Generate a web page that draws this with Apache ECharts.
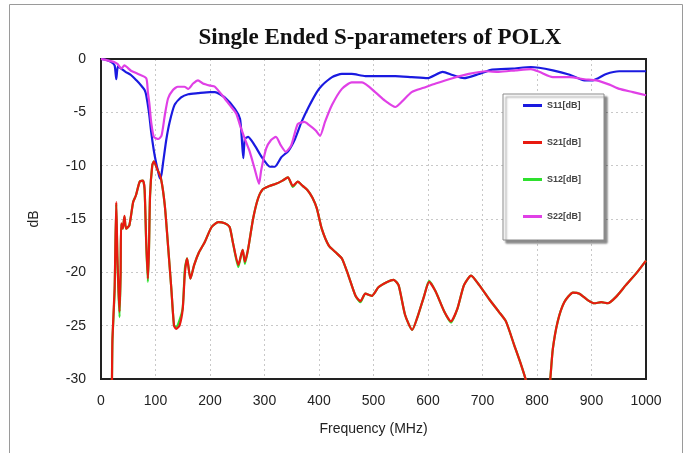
<!DOCTYPE html>
<html>
<head>
<meta charset="utf-8">
<script src="https://cdn.jsdelivr.net/npm/echarts@6/dist/echarts.min.js"></script>
<style>
  html, body { margin: 0; padding: 0; background: #fff; }
  #chart { width: 691px; height: 453px; }
</style>
</head>
<body>
<div id="chart"></div>
<script>
// [frequency MHz, dB]
const s11 = [[0,0],[10,-0.1],[19,-0.3],[25,-0.6],[28,-1.9],[31,-0.7],[37,-0.9],[45,-1.2],[55,-1.5],[65,-2.0],
  [74,-2.5],[80,-2.9],[83,-3.4],[88,-5.0],[92,-6.8],[97,-8.6],[101,-9.7],[105,-10.6],[108,-11.2],[111,-10.8],
  [114,-9.7],[120,-7.5],[126,-5.9],[135,-4.3],[147,-3.6],[160,-3.3],[178,-3.2],[200,-3.1],[209,-3.1],[227,-3.6],
  [246,-4.7],[255,-5.6],[258,-7.2],[261,-9.3],[264,-7.5],[270,-7.3],[282,-8.1],[295,-9.2],[310,-10.1],[319,-10.1],
  [331,-9.2],[344,-8.6],[356,-7.5],[368,-5.9],[381,-4.5],[396,-3.1],[405,-2.5],[424,-1.7],[442,-1.4],[460,-1.4],
  [485,-1.6],[509,-1.6],[540,-1.6],[570,-1.7],[599,-1.8],[627,-1.2],[645,-1.5],[666,-1.8],[694,-1.4],[718,-1.0],
  [755,-0.9],[789,-0.75],[829,-1.06],[860,-1.47],[887,-2.0],[902,-2.0],[927,-1.4],[951,-1.15],[1000,-1.15]];

const s21 = [[18,-34],[20,-30.5],[21,-26.2],[25,-21.5],[28,-13.4],[30,-18.4],[32,-21.5],[34,-23.7],[36,-20],[37,-15.4],
  [40,-15.9],[43,-14.7],[46,-15.9],[52,-15.6],[59,-13.4],[64,-12.8],[71,-11.5],[77,-11.4],[80,-12.2],[83,-17.2],
  [86,-20.6],[88,-17.8],[90,-12.8],[94,-10],[97,-9.6],[103,-10.3],[110,-11.2],[117,-13.7],[123,-17.5],[129,-21.5],
  [134,-25],[138,-25.3],[144,-25],[150,-23.4],[154,-20],[158,-18.7],[164,-20.6],[171,-19.3],[180,-18.1],[190,-17.2],
  [203,-15.75],[215,-15.3],[227,-15.4],[236,-15.75],[242,-17.2],[252,-19.3],[257,-18.4],[260,-17.9],[264,-19],[270,-17.8],
  [279,-15],[288,-13.1],[297,-12.2],[309,-11.9],[321,-11.7],[333,-11.4],[343,-11.1],[352,-11.9],[361,-11.5],[370,-11.9],
  [379,-12.3],[388,-13],[396,-14.0],[405,-15.9],[418,-17.5],[430,-18.1],[442,-18.7],[454,-20.3],[467,-22.2],[476,-22.7],
  [485,-22.0],[497,-22.2],[509,-21.4],[525,-20.9],[537,-20.7],[546,-21.2],[558,-24],[571,-25.4],[580,-24.3],[593,-22.2],
  [602,-20.9],[614,-21.8],[630,-23.7],[642,-24.6],[654,-23.4],[666,-21.2],[679,-20.3],[694,-21.2],[712,-22.5],[730,-23.7],
  [743,-24.6],[758,-26.8],[771,-28.7],[780,-30.2],[790,-33],[805,-36],[815,-34],[824,-30.2],[829,-27.2],[838,-24.6],
  [850,-22.8],[866,-21.9],[878,-22.0],[893,-22.6],[905,-22.9],[918,-22.8],[930,-22.9],[945,-22.3],[963,-21.2],[982,-20.1],
  [1000,-18.9]];

const s12 = [[18,-34],[20,-30.5],[21,-26.4],[25,-21.8],[28,-13.6],[30,-18.6],[32,-21.8],[34,-24.2],[36,-20.2],[37,-15.5],
  [40,-15.9],[43,-14.8],[46,-15.9],[52,-15.6],[59,-13.4],[64,-12.8],[71,-11.5],[77,-11.4],[80,-12.3],[83,-17.4],
  [86,-20.9],[88,-17.9],[90,-12.8],[94,-10],[97,-9.6],[103,-10.3],[110,-11.2],[117,-13.7],[123,-17.5],[129,-21.5],
  [134,-25],[138,-25.1],[144,-24.5],[150,-23.3],[154,-19.6],[158,-18.7],[164,-20.6],[171,-19.3],[180,-18.1],[190,-17.2],
  [203,-15.75],[215,-15.3],[227,-15.4],[236,-15.75],[242,-17.2],[252,-19.5],[257,-18.4],[260,-17.9],[264,-19.2],[270,-17.8],
  [279,-15],[288,-13.1],[297,-12.2],[309,-11.9],[321,-11.7],[333,-11.4],[343,-11.1],[352,-12.0],[361,-11.5],[370,-11.9],
  [379,-12.3],[388,-13],[396,-14.0],[405,-15.9],[418,-17.5],[430,-18.1],[442,-18.7],[454,-20.3],[467,-22.2],[476,-22.8],
  [485,-22.0],[497,-22.2],[509,-21.4],[525,-20.9],[537,-20.7],[546,-21.2],[558,-24],[571,-25.4],[580,-24.3],[593,-22.2],
  [602,-20.8],[614,-21.8],[630,-23.7],[642,-24.7],[654,-23.4],[666,-21.2],[679,-20.3],[694,-21.2],[712,-22.5],[730,-23.7],
  [743,-24.6],[758,-26.8],[771,-28.7],[780,-30.2],[790,-33],[805,-36],[815,-34],[824,-30.2],[829,-27.2],[838,-24.6],
  [850,-22.8],[866,-21.9],[878,-22.0],[893,-22.6],[905,-22.9],[918,-22.8],[930,-22.9],[945,-22.3],[963,-21.2],[982,-20.1],
  [1000,-18.9]];

const s22 = [[0,0],[10,-0.1],[25,-0.3],[31,-0.5],[37,-0.9],[43,-0.6],[55,-1.1],[68,-1.4],[83,-1.8],[86,-3.1],
  [89,-4.3],[92,-5.9],[97,-7.3],[105,-7.5],[111,-7.2],[117,-5.3],[123,-3.7],[132,-2.9],[141,-2.6],[153,-2.6],
  [160,-2.8],[169,-2.3],[178,-2.0],[187,-2.3],[200,-2.5],[209,-2.6],[227,-3.7],[236,-4.3],[248,-5.1],[255,-6.2],
  [264,-7.5],[273,-8.7],[282,-10.3],[290,-11.7],[294,-10.4],[303,-8.4],[312,-7.6],[321,-7.3],[330,-8.1],[339,-8.7],
  [349,-8.1],[361,-6.1],[373,-5.9],[382,-6.2],[394,-6.7],[402,-7.2],[411,-5.9],[424,-4.3],[442,-2.8],[460,-2.2],
  [479,-2.2],[503,-3.1],[521,-3.9],[540,-4.5],[552,-4.0],[570,-3.1],[592,-2.7],[614,-2.3],[645,-1.8],[675,-1.4],
  [706,-1.15],[730,-1.2],[761,-1.06],[789,-0.95],[804,-1.2],[829,-1.7],[860,-1.7],[887,-1.9],[909,-2.0],[933,-2.4],
  [951,-2.8],[976,-3.1],[1000,-3.4]];

const seriesNames = ['S11[dB]', 'S21[dB]', 'S12[dB]', 'S22[dB]'];
const seriesData = [s11, s21, s12, s22];
const seriesColors = ['#1a1ae0', '#e81a10', '#2ee02e', '#e040e6'];
const seriesZ = [3, 4, 2, 3];

const chart = echarts.init(document.getElementById('chart'));
const option = {
  backgroundColor: '#fff',
  animation: false,
  title: {
    text: 'Single Ended S-parameters of POLX',
    left: 375,
    top: 22,
    textAlign: 'center',
    textStyle: { fontFamily: 'Liberation Serif', fontWeight: 'bold', fontSize: 23, color: '#111' }
  },
  graphic: [{
    type: 'rect',
    shape: { x: 9.5, y: 4.5, width: 673, height: 470 },
    style: { fill: 'none', stroke: '#9a9a9a', lineWidth: 1 },
    silent: true
  }],
  grid: {
    left: 101, right: 45, top: 59, bottom: 74,
    show: true, borderColor: '#222', borderWidth: 2
  },
  legend: {
    orient: 'vertical',
    left: 503, top: 94,
    padding: [6, 23, 18, 20],
    itemGap: 26,
    itemWidth: 19, itemHeight: 3,
    icon: 'rect',
    backgroundColor: '#fff',
    borderColor: '#8a8a8a', borderWidth: 1,
    shadowColor: 'rgba(0,0,0,0.45)', shadowBlur: 2, shadowOffsetX: 3, shadowOffsetY: 3,
    textStyle: { fontFamily: 'Liberation Sans', fontSize: 9, fontWeight: 'bold', color: '#444', lineHeight: 11 },
    data: seriesNames
  },
  xAxis: {
    type: 'value', min: 0, max: 1000, interval: 100,
    name: 'Frequency (MHz)', nameLocation: 'middle', nameGap: 43,
    nameTextStyle: { fontFamily: 'Liberation Sans', fontSize: 14, color: '#222' },
    axisLine: { lineStyle: { color: '#222', width: 2 } },
    axisTick: { show: false },
    axisLabel: { margin: 15, fontFamily: 'Liberation Sans', fontSize: 14, color: '#222', formatter: v => String(v) },
    splitLine: { showMinLine: false, showMaxLine: false, lineStyle: { color: '#c8c8c8', type: [2, 3] } }
  },
  yAxis: {
    type: 'value', min: -30, max: 0, interval: 5,
    name: 'dB', nameLocation: 'middle', nameGap: 60, nameRotate: 90,
    nameTextStyle: { fontFamily: 'Liberation Sans', fontSize: 14, color: '#222' },
    axisLine: { lineStyle: { color: '#222', width: 2 } },
    axisTick: { show: false },
    axisLabel: { margin: 15, fontFamily: 'Liberation Sans', fontSize: 14, color: '#222' },
    splitLine: { showMinLine: false, showMaxLine: false, lineStyle: { color: '#c8c8c8', type: [2, 3] } }
  },
  series: seriesNames.map((name, i) => ({
    name: name,
    type: 'line',
    data: seriesData[i],
    z: seriesZ[i],
    showSymbol: false,
    smooth: 0.2,
    clip: true,
    lineStyle: { color: seriesColors[i], width: 2.2 },
    itemStyle: { color: seriesColors[i] }
  }))
};
chart.setOption(option);
window.addEventListener('resize', function () {
  chart.resize();
});
</script>
</body>
</html>
